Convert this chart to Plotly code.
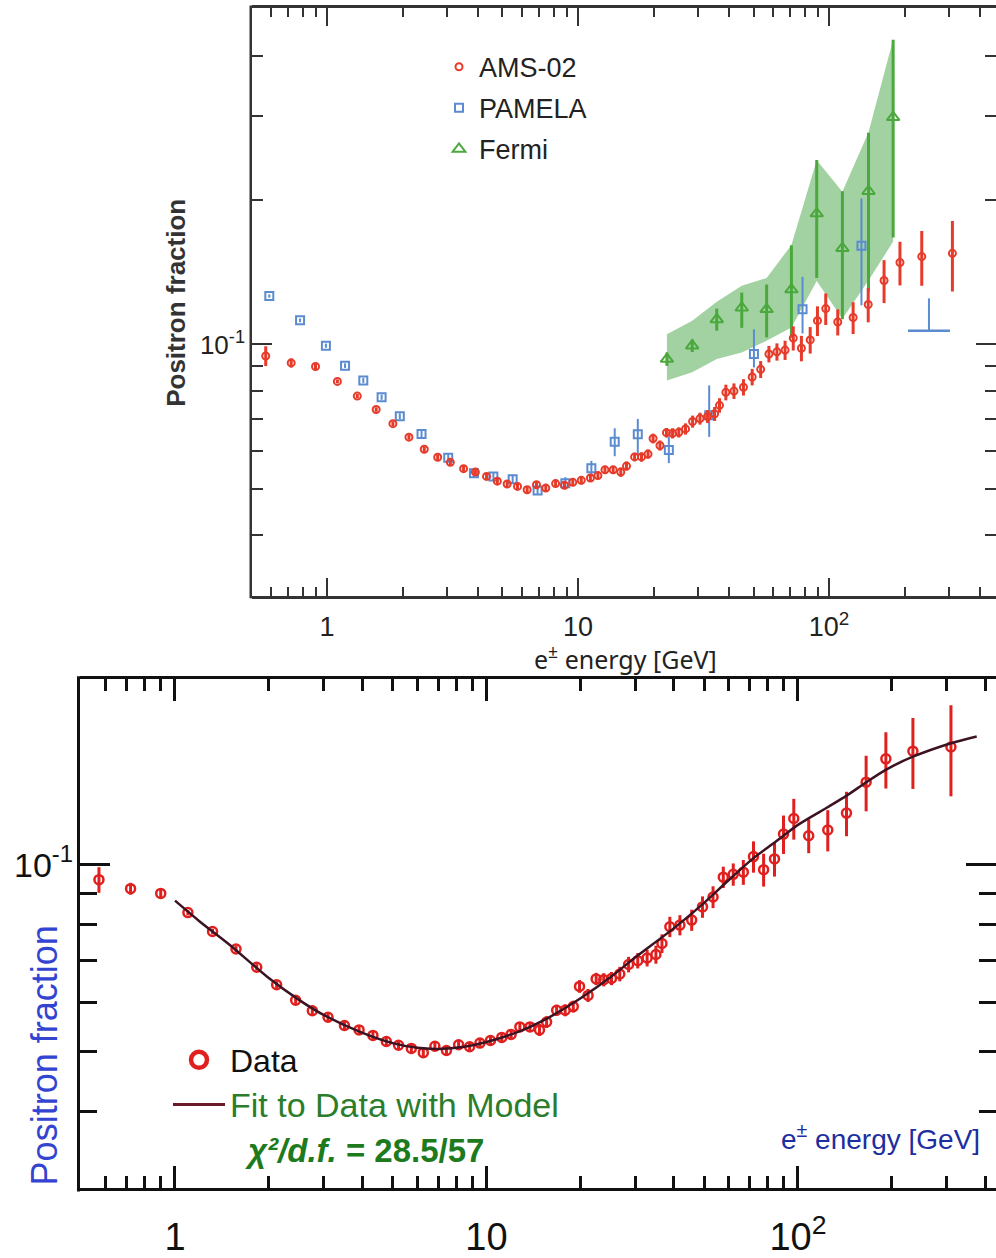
import plotly.graph_objects as go

# ---------------- data ----------------
# AMS-02 positron fraction (shared by both panels)
ams_energy = [0.57, 0.72, 0.90, 1.10, 1.32, 1.57, 1.83, 2.12, 2.44, 2.76, 3.10, 3.50,
              3.90, 4.32, 4.77, 5.22, 5.74, 6.27, 6.83, 7.44, 8.14, 8.83, 9.53, 10.3,
              11.2, 12.0, 12.8, 13.8, 14.8, 15.6, 16.8, 17.9, 19.0, 19.9, 21.2, 22.5,
              23.8, 25.2, 26.8, 28.6, 30.6, 32.8, 35.0, 36.6, 38.8, 41.8, 45.6, 49.4,
              53.4, 57.6, 62.0, 66.8, 72.0, 77.6, 84.1, 89.9, 97.0, 108.3, 124.7, 143.2,
              165.6, 191.6, 234.0, 310.0]
ams_fraction = [0.0946, 0.0915, 0.0899, 0.0837, 0.0780, 0.0731, 0.0683, 0.0640, 0.0604, 0.0581,
                0.0567, 0.0550, 0.0541, 0.0530, 0.0518, 0.0511, 0.0505, 0.0497, 0.0509, 0.0501,
                0.0512, 0.0508, 0.0515, 0.0520, 0.0526, 0.0532, 0.0547, 0.0547, 0.0541, 0.0557,
                0.0582, 0.0582, 0.0590, 0.0636, 0.0615, 0.0654, 0.0652, 0.0655, 0.0666, 0.0690,
                0.0700, 0.0707, 0.0716, 0.0746, 0.0794, 0.0799, 0.0814, 0.0855, 0.0887, 0.0955,
                0.0965, 0.0973, 0.1031, 0.0982, 0.1022, 0.1121, 0.1188, 0.1114, 0.1138, 0.1212,
                0.1360, 0.1483, 0.1526, 0.1550]
ams_error = [0.0045, 0.0020, 0.0015, 0.0008, 0.0008, 0.0008, 0.0008, 0.0008, 0.0008, 0.0008,
             0.0008, 0.0008, 0.0008, 0.0008, 0.0008, 0.0008, 0.0008, 0.0008, 0.0008, 0.0008,
             0.0008, 0.0008, 0.0008, 0.0010, 0.0010, 0.0010, 0.0010, 0.0010, 0.0012, 0.0012,
             0.0012, 0.0013, 0.0013, 0.0015, 0.0015, 0.0015, 0.0016, 0.0016, 0.0018, 0.0020,
             0.0020, 0.0022, 0.0024, 0.0026, 0.0030, 0.0030, 0.0032, 0.0034, 0.0036, 0.0038,
             0.0040, 0.0045, 0.0060, 0.0060, 0.0065, 0.0080, 0.0090, 0.0070, 0.0087, 0.0100,
             0.0140, 0.0155, 0.0200, 0.0260]

# PAMELA
pamela_energy = [0.589, 0.781, 0.99, 1.18, 1.395, 1.65, 1.95, 2.38, 3.04, 3.85, 4.6, 5.49,
                 6.9, 8.9, 11.3, 14.0, 17.3, 23.0, 33.3, 50.2, 78.4, 134.6]
pamela_fraction = [0.1262, 0.1123, 0.0994, 0.0903, 0.0841, 0.0776, 0.0708, 0.0650, 0.0580,
                   0.0538, 0.0530, 0.0523, 0.0495, 0.0513, 0.0551, 0.0626, 0.0649, 0.0602,
                   0.0711, 0.0955, 0.1184, 0.1607]
pamela_err_plus = [0.001, 0.001, 0.001, 0.001, 0.001, 0.001, 0.001, 0.001, 0.001, 0.001,
                   0.001, 0.001, 0.001, 0.0015, 0.002, 0.0042, 0.0050, 0.0040, 0.0110,
                   0.0120, 0.0200, 0.0410]
pamela_err_minus = [0.001, 0.001, 0.001, 0.001, 0.001, 0.001, 0.001, 0.001, 0.001, 0.001,
                    0.001, 0.001, 0.001, 0.0015, 0.002, 0.0042, 0.0060, 0.0037, 0.0070,
                    0.0060, 0.0130, 0.0400]
pamela_limit_energy = [250.0]
pamela_limit_fraction = [0.1068]
pamela_limit_bar = [0.018]

# Fermi
fermi_energy = [22.6, 28.5, 35.7, 44.9, 56.4, 70.8, 89.3, 113.0, 143.6, 180.0]
fermi_fraction = [0.0932, 0.0994, 0.1128, 0.1193, 0.1184, 0.1302, 0.1877, 0.1589, 0.2090, 0.2982]
fermi_err_plus = [0.003, 0.003, 0.006, 0.009, 0.015, 0.031, 0.055, 0.050, 0.068, 0.135]
fermi_err_minus = [0.003, 0.003, 0.006, 0.011, 0.015, 0.027, 0.050, 0.046, 0.080, 0.131]
fermi_band_energy = [22.6, 28.5, 35.7, 44.9, 56.4, 70.8, 89.3, 113.0, 143.6, 180.0]
fermi_band_upper = [0.1050, 0.1120, 0.1228, 0.1326, 0.1377, 0.1614, 0.2424, 0.2085, 0.2774, 0.4336]
fermi_band_lower = [0.0841, 0.0875, 0.0932, 0.0962, 0.1018, 0.1085, 0.1356, 0.1132, 0.1360, 0.1640]

# Model fit (bottom panel)
fit_energy = [1.0, 1.2, 1.5, 2.0, 2.5, 3.0, 4.0, 5.0, 6.0, 7.0, 8.5, 10.0, 13.0, 16.0, 20.0,
              25.0, 30.0, 40.0, 50.0, 60.0, 72.0, 85.0, 100.0, 125.0, 143.0, 166.0, 192.0,
              234.0, 310.0, 375.0]
fit_fraction = [0.0875, 0.0810, 0.0742, 0.0656, 0.0605, 0.0572, 0.0535, 0.0515, 0.0506, 0.0504,
                0.0508, 0.0517, 0.0540, 0.0568, 0.0608, 0.0658, 0.0708, 0.0790, 0.0868, 0.0945,
                0.1025, 0.1090, 0.1160, 0.1240, 0.1292, 0.1360, 0.1425, 0.1495, 0.1572, 0.1612]

# axis ticks
x_major = [1, 10, 100]
x_major_text = ["1", "10", "10<sup>2</sup>"]
x_minor = [0.6, 0.7, 0.8, 0.9, 2, 3, 4, 5, 6, 7, 8, 9, 20, 30, 40, 50, 60, 70, 80, 90, 200, 300, 400]
y_major = [0.1]
y_major_text = ["10<sup>-1</sup>"]
y_minor_top = [0.04, 0.05, 0.06, 0.07, 0.08, 0.09, 0.2, 0.3, 0.4]
y_minor_bottom = [0.04, 0.05, 0.06, 0.07, 0.08, 0.09]

# ---------------- figure ----------------
W, H = 996, 1258
FONT = "Liberation Sans, Arial, sans-serif"
red_top = "#e63b2a"
red_bot = "#e0201e"
blue = "#5b8bd0"
green = "#4aa83c"

fig = go.Figure()

# Fermi band
fig.add_trace(go.Scatter(
    x=fermi_band_energy + fermi_band_energy[::-1],
    y=fermi_band_upper + fermi_band_lower[::-1],
    fill="toself", fillcolor="rgba(100,180,100,0.6)", line=dict(width=0),
    mode="lines", showlegend=False, hoverinfo="skip", xaxis="x", yaxis="y"))

fig.add_trace(go.Scatter(
    x=fermi_energy, y=fermi_fraction, mode="markers", name="Fermi",
    marker=dict(symbol="triangle-up-open", size=11, color=green, line=dict(width=2, color=green)),
    error_y=dict(type="data", symmetric=False, array=fermi_err_plus, arrayminus=fermi_err_minus,
                 color=green, thickness=3, width=0),
    legend="legend", legendgroup="fermi", legendrank=3, xaxis="x", yaxis="y"))

fig.add_trace(go.Scatter(
    x=pamela_energy, y=pamela_fraction, mode="markers", name="PAMELA",
    marker=dict(symbol="square-open", size=8, color=blue, line=dict(width=2, color=blue)),
    error_y=dict(type="data", symmetric=False, array=pamela_err_plus, arrayminus=pamela_err_minus,
                 color=blue, thickness=2, width=0),
    legend="legend", legendgroup="pamela", legendrank=2, xaxis="x", yaxis="y"))

fig.add_trace(go.Scatter(
    x=pamela_limit_energy, y=pamela_limit_fraction, mode="markers", showlegend=False,
    marker=dict(symbol="line-ew", size=30, color=blue, line=dict(width=2.5, color=blue)),
    error_y=dict(type="data", symmetric=False, array=pamela_limit_bar, arrayminus=[0],
                 color=blue, thickness=2, width=0),
    xaxis="x", yaxis="y"))

fig.add_trace(go.Scatter(
    x=ams_energy, y=ams_fraction, mode="markers", name="AMS-02",
    marker=dict(symbol="circle-open", size=7, color=red_top, line=dict(width=2, color=red_top)),
    error_y=dict(type="data", array=ams_error, color=red_top, thickness=3, width=0),
    legend="legend", legendgroup="ams", legendrank=1, xaxis="x", yaxis="y"))

# bottom panel
fig.add_trace(go.Scatter(
    x=ams_energy, y=ams_fraction, mode="markers", showlegend=False,
    marker=dict(symbol="circle-open", size=9, color=red_bot, line=dict(width=2.5, color=red_bot)),
    error_y=dict(type="data", array=ams_error, color=red_bot, thickness=3, width=0),
    xaxis="x2", yaxis="y2"))

fig.add_trace(go.Scatter(
    x=fit_energy, y=fit_fraction, mode="lines", showlegend=False,
    line=dict(color="#3b1322", width=2.5, shape="spline", smoothing=0.8),
    xaxis="x2", yaxis="y2"))

# legend entries for the bottom panel
fig.add_trace(go.Scatter(
    x=[None], y=[None], mode="markers", name="Data",
    marker=dict(symbol="circle-open", size=16, color=red_bot, line=dict(width=4.5, color=red_bot)),
    legend="legend2", legendrank=1, xaxis="x2", yaxis="y2"))
fig.add_trace(go.Scatter(
    x=[None], y=[None], mode="lines",
    name='<span style="color:#2b7d2b;font-size:34px">Fit to Data with Model</span>',
    line=dict(color="#6a1b2b", width=3),
    legend="legend2", legendrank=2, xaxis="x2", yaxis="y2"))

def px_x(p):
    return p / W

def px_y(p):
    return 1 - p / H

axis_common = dict(type="log", showgrid=False, zeroline=False, mirror="ticks", ticks="inside")

fig.update_layout(
    width=W, height=H, margin=dict(l=0, r=0, t=0, b=0),
    paper_bgcolor="white", plot_bgcolor="white",
    font=dict(family=FONT, color="#222"),
    xaxis=dict(**axis_common, showline=True, domain=[px_x(252), 1.0], anchor="y",
               range=[-0.2988, 2.665], tickvals=x_major, ticktext=x_major_text,
               ticklen=18, tickwidth=2, tickcolor="#333", linecolor="#333", linewidth=2.5,
               tickfont=dict(size=27, color="#222"), ticklabelstandoff=5,
               minor=dict(tickvals=x_minor, ticklen=9, tickwidth=2, tickcolor="#333",
                          ticks="inside", showgrid=False)),
    yaxis=dict(**axis_common, showline=False, domain=[px_y(600), px_y(8)], anchor="x",
               range=[-1.525, -0.297], tickvals=y_major, ticktext=y_major_text,
               ticklen=20, tickwidth=2, tickcolor="#333",
               tickfont=dict(size=26, color="#222"), ticklabelstandoff=6,
               minor=dict(tickvals=y_minor_top, ticklen=11, tickwidth=2, tickcolor="#333",
                          ticks="inside", showgrid=False)),
    xaxis2=dict(**axis_common, showline=True, domain=[px_x(80), 1.0], anchor="y2",
                range=[-0.305, 2.636], tickvals=x_major, ticktext=x_major_text,
                ticklen=22, tickwidth=2.5, tickcolor="#111", linecolor="#111", linewidth=3,
                tickfont=dict(size=38, color="#111"), ticklabelstandoff=13,
                minor=dict(tickvals=x_minor, ticklen=12, tickwidth=2.5, tickcolor="#111",
                           ticks="inside", showgrid=False)),
    yaxis2=dict(**axis_common, showline=False, domain=[px_y(1197), px_y(684)], anchor="x2",
                range=[-1.523, -0.700], tickvals=y_major, ticktext=y_major_text,
                ticklen=30, tickwidth=2.5, tickcolor="#111",
                tickfont=dict(size=34, color="#111"), ticklabelstandoff=6,
                minor=dict(tickvals=y_minor_bottom, ticklen=17, tickwidth=2.5, tickcolor="#111",
                           ticks="inside", showgrid=False)),
    legend=dict(x=px_x(439), y=px_y(43), xanchor="left", yanchor="top",
                bgcolor="rgba(0,0,0,0)", font=dict(size=27, color="#222", family=FONT),
                itemwidth=30, traceorder="grouped", tracegroupgap=3),
    legend2=dict(x=px_x(168), y=px_y(1040), xanchor="left", yanchor="top",
                 bgcolor="rgba(0,0,0,0)", font=dict(size=32, color="#111", family=FONT),
                 itemwidth=52, traceorder="normal"),
)

# left frame lines (the right frame edge lies outside the picture)
fig.add_shape(type="line", xref="paper", yref="paper",
              x0=px_x(250.75), x1=px_x(250.75), y0=px_y(602.5), y1=px_y(5.5),
              line=dict(color="#333", width=2.5), layer="above")
fig.add_shape(type="line", xref="paper", yref="paper",
              x0=px_x(78.5), x1=px_x(78.5), y0=px_y(1200), y1=px_y(681),
              line=dict(color="#111", width=3), layer="above")

annotations = [
    dict(text="<b>Positron fraction</b>", x=px_x(176), y=px_y(305), xref="paper", yref="paper",
         textangle=-90, showarrow=False, font=dict(size=26, color="#333", family=FONT),
         xanchor="center", yanchor="middle"),
    dict(text="e<sup>±</sup> energy [GeV]", x=px_x(625), y=px_y(662), xref="paper", yref="paper",
         showarrow=False, font=dict(size=25, color="#222", family="Noto Sans, sans-serif"),
         xanchor="center", yanchor="middle"),
    dict(text="Positron fraction", x=px_x(44), y=px_y(1063), xref="paper", yref="paper",
         textangle=-90, showarrow=False, font=dict(size=36, color="#3344d0", family=FONT),
         xanchor="center", yanchor="middle"),
    dict(text="e<sup>±</sup> energy [GeV]", x=px_x(982), y=px_y(1145), xref="paper", yref="paper",
         showarrow=False, font=dict(size=28, color="#1c2ea0", family=FONT),
         xanchor="right", yanchor="middle"),
    dict(text="<b><i>χ²/d.f.</i> = 28.5/57</b>", x=px_x(243), y=px_y(1159), xref="paper",
         yref="paper", showarrow=False, font=dict(size=33, color="#1d7a1d", family=FONT),
         xanchor="left", yanchor="middle"),
]
fig.update_layout(annotations=annotations)

fig.write_html("out.html")
